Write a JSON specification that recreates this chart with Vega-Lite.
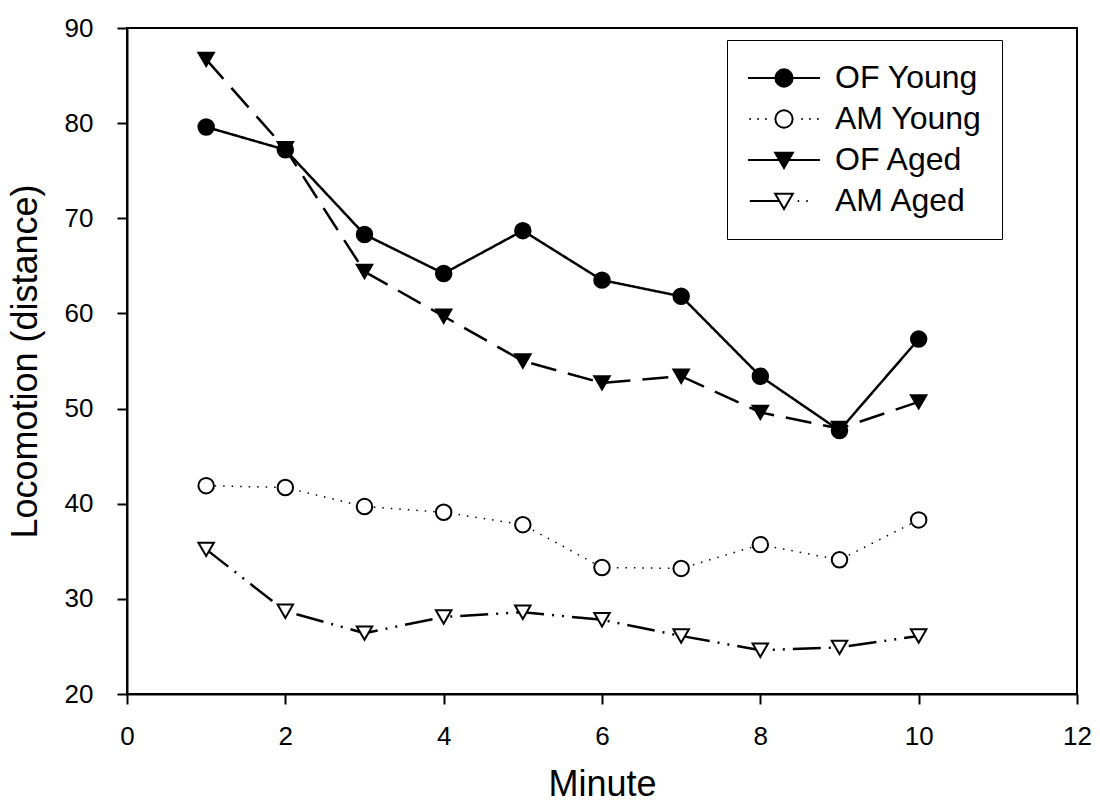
{
  "$schema": "https://vega.github.io/schema/vega-lite/v6.json",
  "width": 950,
  "height": 666,
  "autosize": {"type": "none"},
  "padding": {"left": 127, "top": 28, "right": 23, "bottom": 118},
  "background": "white",
  "config": {
    "font": "Liberation Sans",
    "view": {"stroke": "black", "strokeWidth": 2},
    "axis": {
      "domainColor": "black", "domainWidth": 2, "tickColor": "black", "tickWidth": 2,
      "grid": false, "labelColor": "black", "titleColor": "black",
      "labelFont": "Liberation Sans", "titleFont": "Liberation Sans", "titleFontWeight": "normal",
      "labelFontSize": 26, "titleFontSize": 36, "tickSize": 10
    },
    "legend": {
      "orient": "none", "legendX": 600, "legendY": 12,
      "strokeColor": "black", "fillColor": "white", "padding": 20,
      "symbolSize": 5184, "symbolStrokeColor": "black", "symbolStrokeWidth": 2, "symbolOpacity": 1,
      "labelFont": "Liberation Sans", "labelFontSize": 32, "labelColor": "black",
      "labelOffset": 14, "rowPadding": 5, "clipHeight": 36, "labelLimit": 400
    }
  },
  "data": {
    "values": [
      {"series": "AM Aged", "minute": 1, "value": 35.2},
      {"series": "AM Aged", "minute": 2, "value": 28.7},
      {"series": "AM Aged", "minute": 3, "value": 26.4},
      {"series": "AM Aged", "minute": 4, "value": 28.1},
      {"series": "AM Aged", "minute": 5, "value": 28.6},
      {"series": "AM Aged", "minute": 6, "value": 27.8},
      {"series": "AM Aged", "minute": 7, "value": 26.1},
      {"series": "AM Aged", "minute": 8, "value": 24.6},
      {"series": "AM Aged", "minute": 9, "value": 24.9},
      {"series": "AM Aged", "minute": 10, "value": 26.1},
      {"series": "AM Young", "minute": 1, "value": 41.9},
      {"series": "AM Young", "minute": 2, "value": 41.7},
      {"series": "AM Young", "minute": 3, "value": 39.7},
      {"series": "AM Young", "minute": 4, "value": 39.1},
      {"series": "AM Young", "minute": 5, "value": 37.8},
      {"series": "AM Young", "minute": 6, "value": 33.3},
      {"series": "AM Young", "minute": 7, "value": 33.2},
      {"series": "AM Young", "minute": 8, "value": 35.7},
      {"series": "AM Young", "minute": 9, "value": 34.1},
      {"series": "AM Young", "minute": 10, "value": 38.3},
      {"series": "OF Aged", "minute": 1, "value": 86.7},
      {"series": "OF Aged", "minute": 2, "value": 77.3},
      {"series": "OF Aged", "minute": 3, "value": 64.4},
      {"series": "OF Aged", "minute": 4, "value": 59.7},
      {"series": "OF Aged", "minute": 5, "value": 55.0},
      {"series": "OF Aged", "minute": 6, "value": 52.7},
      {"series": "OF Aged", "minute": 7, "value": 53.4},
      {"series": "OF Aged", "minute": 8, "value": 49.6},
      {"series": "OF Aged", "minute": 9, "value": 47.9},
      {"series": "OF Aged", "minute": 10, "value": 50.7},
      {"series": "OF Young", "minute": 1, "value": 79.6},
      {"series": "OF Young", "minute": 2, "value": 77.2},
      {"series": "OF Young", "minute": 3, "value": 68.3},
      {"series": "OF Young", "minute": 4, "value": 64.2},
      {"series": "OF Young", "minute": 5, "value": 68.7},
      {"series": "OF Young", "minute": 6, "value": 63.5},
      {"series": "OF Young", "minute": 7, "value": 61.8},
      {"series": "OF Young", "minute": 8, "value": 53.4},
      {"series": "OF Young", "minute": 9, "value": 47.7},
      {"series": "OF Young", "minute": 10, "value": 57.3}
    ]
  },
  "encoding": {
    "x": {
      "field": "minute", "type": "quantitative",
      "scale": {"domain": [0, 12], "nice": false, "zero": false},
      "axis": {"title": "Minute", "values": [0, 2, 4, 6, 8, 10, 12], "format": "d", "labelPadding": 19, "titlePadding": 18, "labelFlush": false}
    },
    "y": {
      "field": "value", "type": "quantitative",
      "scale": {"domain": [20, 90], "nice": false, "zero": false},
      "axis": {"title": "Locomotion (distance)", "values": [20, 30, 40, 50, 60, 70, 80, 90], "labelPadding": 24, "titlePadding": 20, "labelFlush": false}
    }
  },
  "layer": [
    {
      "mark": {"type": "line", "color": "black", "strokeCap": "butt"},
      "encoding": {
        "detail": {"field": "series", "type": "nominal"},
        "strokeDash": {
          "field": "series", "type": "nominal",
          "scale": {"domain": ["OF Young", "AM Young", "OF Aged", "AM Aged"], "range": [[1, 0], [1.5, 7], [26, 12], [28, 8, 2, 8, 2, 8]]},
          "legend": null
        },
        "strokeWidth": {
          "field": "series", "type": "ordinal",
          "scale": {"type": "ordinal", "domain": ["OF Young", "AM Young", "OF Aged", "AM Aged"], "range": [2.5, 1.5, 2.5, 2.5]},
          "legend": null
        }
      }
    },
    {
      "mark": {"type": "point", "filled": true, "stroke": "black", "strokeWidth": 2, "size": 240, "opacity": 1},
      "encoding": {
        "shape": {
          "field": "series", "type": "nominal",
          "scale": {"domain": ["OF Young", "AM Young", "OF Aged", "AM Aged"], "range": ["circle", "circle", "triangle-down", "triangle-down"]},
          "legend": null
        },
        "fill": {
          "field": "series", "type": "nominal",
          "scale": {"domain": ["OF Young", "AM Young", "OF Aged", "AM Aged"], "range": ["black", "white", "black", "white"]},
          "legend": null
        }
      }
    },
    {
      "transform": [{"filter": "datum.minute < 0"}],
      "mark": {"type": "point", "filled": true, "stroke": "black", "strokeWidth": 2},
      "encoding": {
        "shape": {
          "field": "series", "type": "nominal",
          "scale": {"domain": ["OF Young", "AM Young", "OF Aged", "AM Aged"], "range": [
            "M-1,0L1,0M0.24,0A0.24,0.24,0,1,1,-0.24,0A0.24,0.24,0,1,1,0.24,0Z",
            "M-0.96,0L-0.92,0M-0.74,0L-0.7,0M-0.52,0L-0.48,0M0.48,0L0.52,0M0.7,0L0.74,0M0.92,0L0.96,0M0.24,0A0.24,0.24,0,1,1,-0.24,0A0.24,0.24,0,1,1,0.24,0Z",
            "M-1,0L1,0M-0.245,-0.2L0.245,-0.2L0,0.22Z",
            "M-0.95,0L-0.13,0M0.38,0L0.42,0M0.62,0L0.66,0M-0.245,-0.2L0.245,-0.2L0,0.22Z"
          ]},
          "legend": {"title": null, "encode": {"symbols": {"update": {"stroke": {"value": "black"}, "strokeWidth": {"value": 2}, "opacity": {"value": 1}}}}}
        },
        "fill": {
          "field": "series", "type": "nominal",
          "scale": {"domain": ["OF Young", "AM Young", "OF Aged", "AM Aged"], "range": ["black", "white", "black", "white"]},
          "legend": {"title": null, "encode": {"symbols": {"update": {"stroke": {"value": "black"}, "strokeWidth": {"value": 2}, "opacity": {"value": 1}}}}}
        }
      }
    }
  ],
  "resolve": {"scale": {"shape": "independent", "fill": "independent", "strokeDash": "independent", "strokeWidth": "independent"}}
}
